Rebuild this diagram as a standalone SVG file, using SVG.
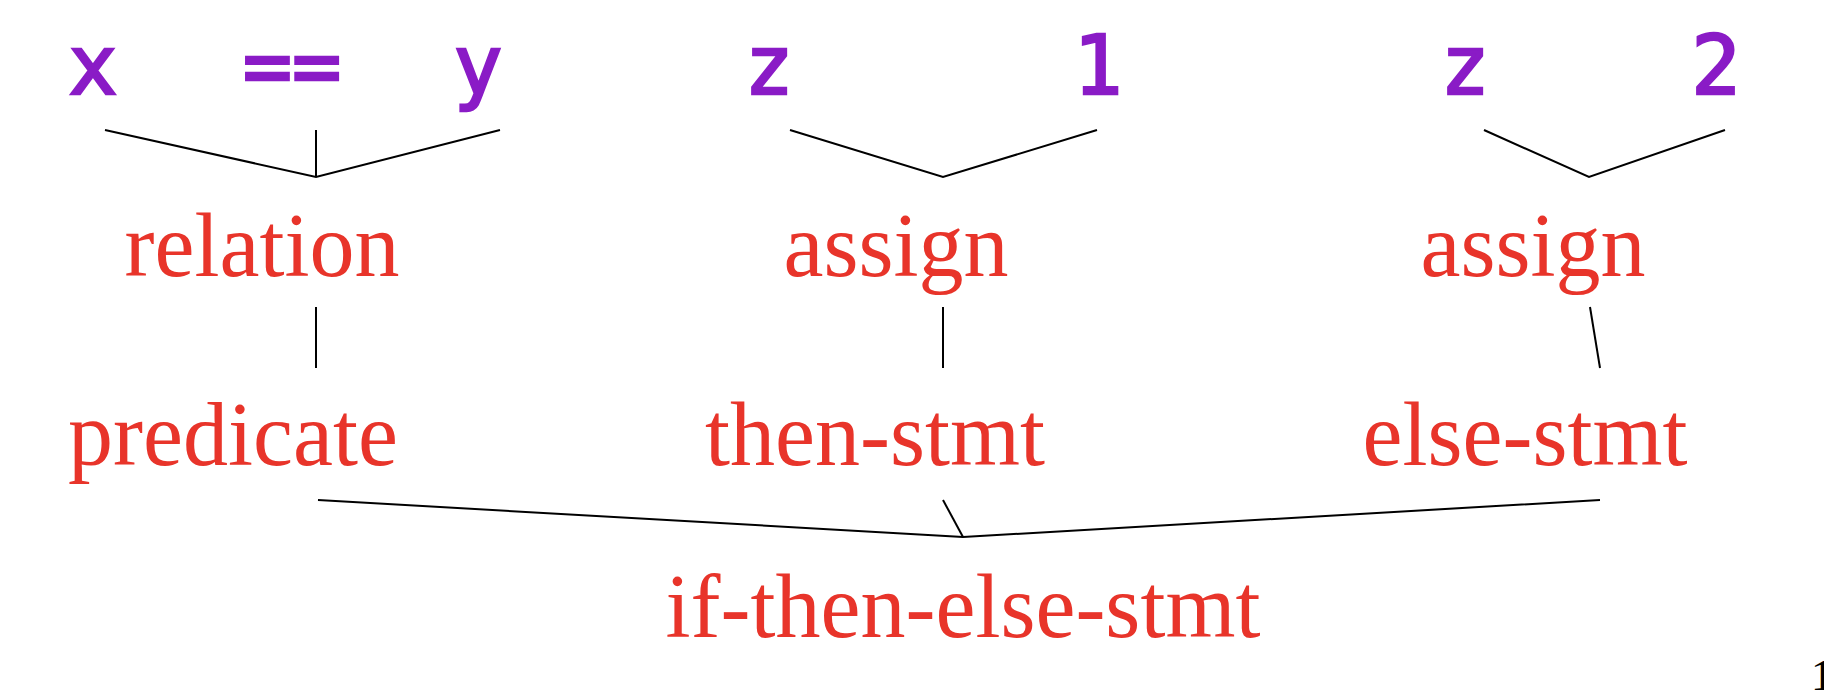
<svg xmlns="http://www.w3.org/2000/svg" width="1824" height="692" viewBox="0 0 1824 692">
<style>
.tok{font-family:"DejaVu Sans Mono","Liberation Mono",monospace;font-size:82px;fill:#8a1bc6;stroke:#8a1bc6;stroke-width:2.5px;text-anchor:middle}
.nt{font-family:"Liberation Serif","Times New Roman",serif;font-size:90px;fill:#e8342a;text-anchor:middle}
.edge{stroke:#000;stroke-width:2;fill:none}
</style>
<rect width="1824" height="692" fill="#fff"/>
<g id="tok-x"><text class="tok" x="93" y="94">x</text></g>
<g id="tok-eq"><text class="tok" x="292" y="94">==</text></g>
<g id="tok-y"><text class="tok" x="478" y="94">y</text></g>
<g id="tok-z1"><text class="tok" x="769" y="94">z</text></g>
<g id="tok-1"><text class="tok" x="1098" y="94">1</text></g>
<g id="tok-z2"><text class="tok" x="1465" y="94">z</text></g>
<g id="tok-2"><text class="tok" x="1716" y="94">2</text></g>
<g id="relation"><text class="nt" x="262" y="276">relation</text></g>
<g id="assign1"><text class="nt" x="896" y="276">assign</text></g>
<g id="assign2"><text class="nt" x="1533" y="276">assign</text></g>
<g id="predicate"><text class="nt" x="233" y="465">predicate</text></g>
<g id="then-stmt"><text class="nt" x="875" y="465">then-stmt</text></g>
<g id="else-stmt"><text class="nt" x="1525" y="465">else-stmt</text></g>
<g id="if-then-else-stmt"><text class="nt" x="963" y="637">if-then-else-stmt</text></g>
<g id="connectors">
<polyline class="edge" points="105,130 316,177 500,130"/>
<line class="edge" x1="316" y1="130" x2="316" y2="177"/>
<polyline class="edge" points="790,130 943,177 1097,130"/>
<polyline class="edge" points="1484,130 1589,177 1725,130"/>
<line class="edge" x1="316" y1="307" x2="316" y2="368"/>
<line class="edge" x1="943" y1="307" x2="943" y2="368"/>
<line class="edge" x1="1590" y1="307" x2="1600" y2="368"/>
<polyline class="edge" points="318,500 963,537 1600,500"/>
<line class="edge" x1="943" y1="500" x2="963" y2="537"/>
</g>
<text x="1811" y="690" font-family="Liberation Serif, serif" font-size="44" fill="#000">1</text>
</svg>
